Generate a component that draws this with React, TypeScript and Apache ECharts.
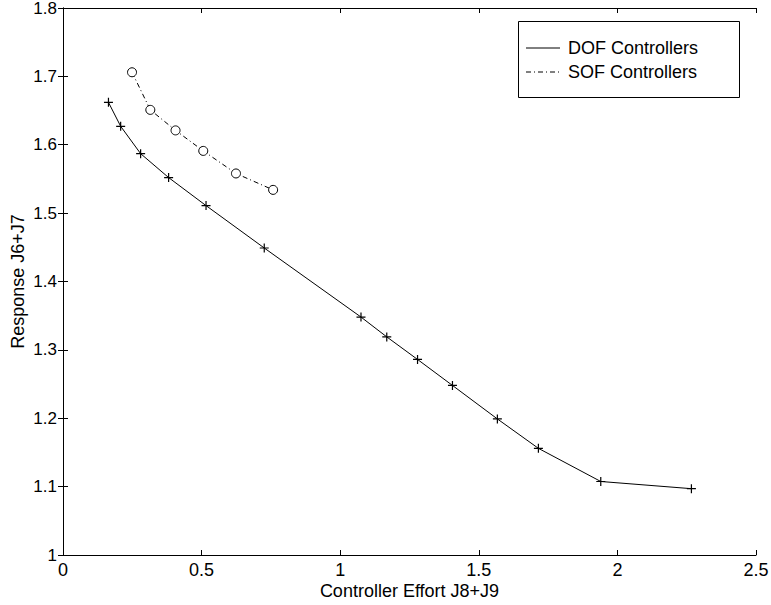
import React, { useEffect, useRef } from "react";
import * as echarts from "echarts";

const dofEffort = [0.164, 0.208, 0.28, 0.381, 0.516, 0.726, 1.075, 1.168, 1.279, 1.405, 1.567, 1.715, 1.94, 2.267];
const dofResponse = [1.662, 1.627, 1.587, 1.552, 1.511, 1.449, 1.348, 1.319, 1.286, 1.248, 1.199, 1.156, 1.1075, 1.097];
const sofEffort = [0.249, 0.315, 0.406, 0.506, 0.624, 0.758];
const sofResponse = [1.706, 1.651, 1.621, 1.591, 1.558, 1.534];
const legendLabels = ["DOF Controllers", "SOF Controllers"];
const xTitle = "Controller Effort J8+J9";
const yTitle = "Response J6+J7";

const FONT = "'Liberation Sans', Arial, Helvetica, sans-serif";
const FS = 18;

export default function App() {
  const ref = useRef<HTMLDivElement>(null);
  useEffect(() => {
    if (!ref.current) return;
    const chart = echarts.init(ref.current, undefined, { renderer: "svg" });
    const axisLine = { show: true, lineStyle: { color: "#000", width: 1 } };
    const tick = { show: true, inside: true, length: 5, lineStyle: { color: "#000" } };
    const dash = [5, 3, 1, 3];
    chart.setOption({
      animation: false,
      backgroundColor: "#fff",
      textStyle: { fontFamily: FONT },
      grid: { left: 63, top: 8, right: 15, bottom: 50, containLabel: false, outerBoundsMode: "none" },
      xAxis: [
        {
          type: "value", min: 0, max: 2.5, interval: 0.5, position: "bottom",
          axisLine, axisTick: tick, splitLine: { show: false },
          axisLabel: { color: "#000", fontSize: FS, margin: 6, fontFamily: FONT },
          name: xTitle, nameLocation: "middle", nameGap: 27, nameMoveOverlap: false,
          nameTextStyle: { color: "#000", fontSize: FS, fontFamily: FONT },
        },
        {
          type: "value", min: 0, max: 2.5, interval: 0.5, position: "top",
          axisLine, axisTick: tick, splitLine: { show: false }, axisLabel: { show: false },
        },
      ],
      yAxis: [
        {
          type: "value", min: 1, max: 1.8, interval: 0.1, position: "left",
          axisLine, axisTick: tick, splitLine: { show: false },
          axisLabel: { color: "#000", fontSize: 17, lineHeight: 14, margin: 6, fontFamily: FONT,
            formatter: (v: number) => (Math.round(v * 10) / 10).toString() },
          name: yTitle, nameLocation: "middle", nameGap: 36, nameRotate: 90, nameMoveOverlap: false,
          nameTextStyle: { color: "#000", fontSize: FS, fontFamily: FONT },
        },
        {
          type: "value", min: 1, max: 1.8, interval: 0.1, position: "right",
          axisLine, axisTick: tick, splitLine: { show: false }, axisLabel: { show: false },
        },
      ],
      series: [
        {
          name: legendLabels[0], type: "line",
          data: dofEffort.map((x, i) => [x, dofResponse[i]]),
          lineStyle: { color: "#000", width: 1 },
          symbol: "path://M0,-5L0,5M-5,0L5,0", symbolSize: 9,
          itemStyle: { color: "#000", borderColor: "#000", borderWidth: 1.2 },
          showSymbol: true,
        },
        {
          name: legendLabels[1], type: "line",
          data: sofEffort.map((x, i) => [x, sofResponse[i]]),
          lineStyle: { color: "#000", width: 1, type: dash },
          symbol: "circle", symbolSize: 9,
          itemStyle: { color: "#fff", borderColor: "#000", borderWidth: 1 },
          showSymbol: true,
        },
      ],
      graphic: [
        { type: "rect", shape: { x: 518.5, y: 21.5, width: 221, height: 76 },
          style: { fill: "#fff", stroke: "#000", lineWidth: 1 }, z: 100 },
        { type: "line", shape: { x1: 526, y1: 48, x2: 560, y2: 48 },
          style: { stroke: "#000", lineWidth: 1 }, z: 101 },
        { type: "line", shape: { x1: 526, y1: 72, x2: 560, y2: 72 },
          style: { stroke: "#000", lineWidth: 1, lineDash: dash }, z: 101 },
        { type: "text", x: 568, y: 48,
          style: { text: legendLabels[0], fill: "#000", font: `${FS}px ${FONT}`, verticalAlign: "middle" }, z: 101 },
        { type: "text", x: 568, y: 72,
          style: { text: legendLabels[1], fill: "#000", font: `${FS}px ${FONT}`, verticalAlign: "middle" }, z: 101 },
      ],
    });
    return () => chart.dispose();
  }, []);
  return <div ref={ref} style={{ width: 771, height: 605, position: "absolute", left: 0, top: 0 }} />;
}
